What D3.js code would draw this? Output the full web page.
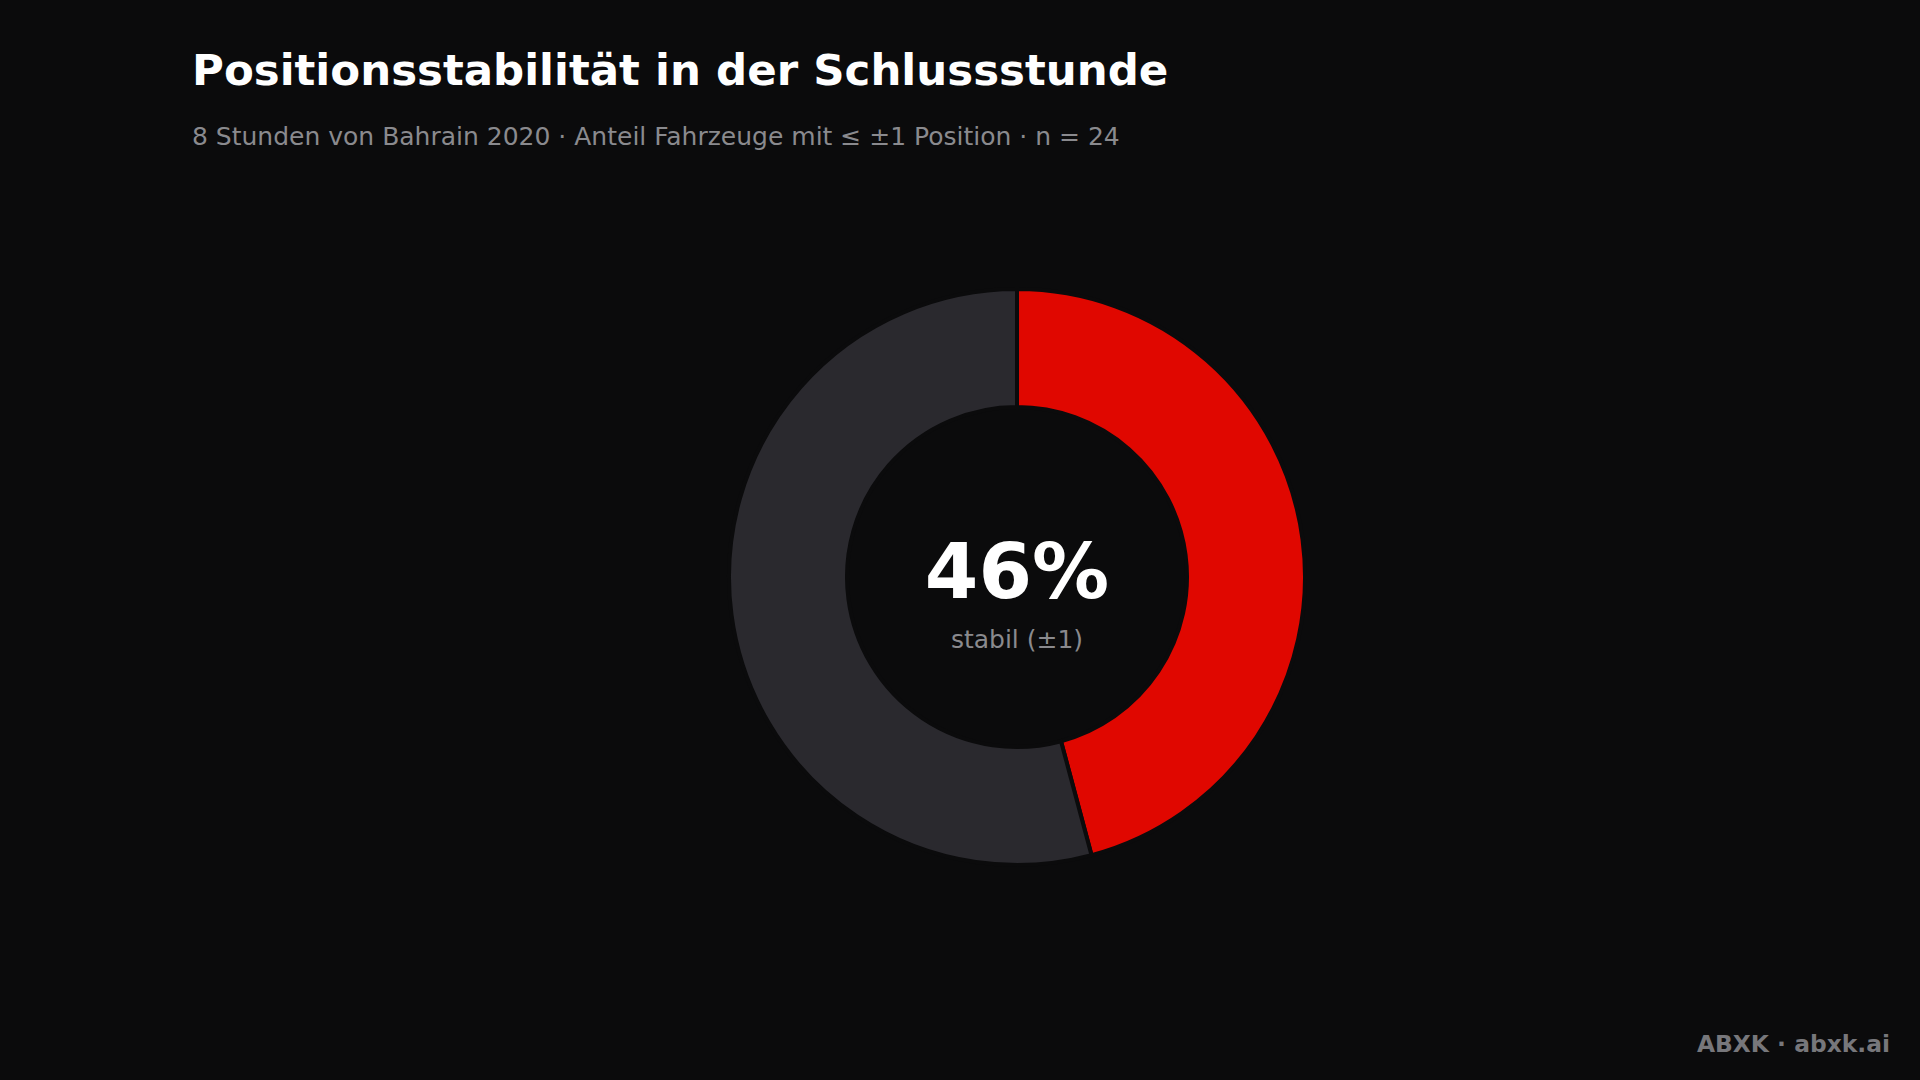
<!DOCTYPE html>
<html><head><meta charset="utf-8">
<script src="https://cdn.jsdelivr.net/npm/d3@7"></script>
<style>html,body{margin:0;background:#0b0b0c;}svg{display:block;font-family:"DejaVu Sans",sans-serif;}</style>
</head><body>
<svg id="c" width="1920" height="1080"></svg>
<script>
const categories = ["stabil (±1)", "instabil"];
const values = [11, 13];
const colors = ["#e00700", "#2a292e"];
const title = "Positionsstabilität in der Schlussstunde";
const subtitle = "8 Stunden von Bahrain 2020 · Anteil Fahrzeuge mit ≤ ±1 Position · n = 24";
const footer = "ABXK · abxk.ai";

const svg = d3.select("#c");
svg.append("rect").attr("width",1920).attr("height",1080).attr("fill","#0b0b0c");
svg.append("text").attr("x",192).attr("y",85).attr("fill","#ffffff").attr("font-size",43.5).attr("font-weight","bold").text(title);
svg.append("text").attr("x",192).attr("y",145).attr("fill","#8a8a8e").attr("font-size",25).text(subtitle);

const cx=1017, cy=577, R=288, r=170;
const g = svg.append("g").attr("transform",`translate(${cx},${cy})`);
const pie = d3.pie().sort(null).value(d=>d)(values);
const arc = d3.arc().innerRadius(r).outerRadius(R);
g.selectAll("path").data(pie).join("path").attr("d",arc)
  .attr("fill",(d,i)=>colors[i]).attr("stroke","#0b0b0c").attr("stroke-width",4);

const pct = Math.round(values[0]/d3.sum(values)*100);
g.append("text").attr("y",21).attr("text-anchor","middle").attr("fill","#ffffff").attr("font-size",77).attr("font-weight","bold").text(pct+"%");
g.append("text").attr("y",71).attr("text-anchor","middle").attr("fill","#8a8a8e").attr("font-size",25).text(categories[0]);

svg.append("text").attr("x",1890).attr("y",1052).attr("text-anchor","end").attr("fill","#77777b").attr("font-size",23.4).attr("font-weight","bold").text(footer);
</script>
</body></html>
